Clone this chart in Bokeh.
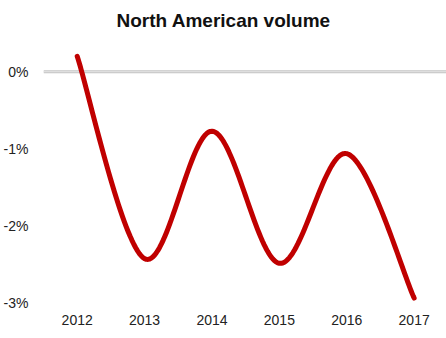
from bokeh.plotting import figure
from bokeh.models import Span, FixedTicker, Range1d, ColumnDataSource
from bokeh.embed import file_html
from bokeh.resources import INLINE

# Annual change in North American volume (percent)
years = [2012, 2013, 2014, 2015, 2016, 2017]
volume_pct = [0.2, -2.42, -0.77, -2.48, -1.06, -2.93]
y_ticks = [0, -1, -2, -3]
y_tick_labels = ["0%", "-1%", "-2%", "-3%"]
x_tick_labels = ["2012", "2013", "2014", "2015", "2016", "2017"]


def smooth(xs, ys, steps=40):
    """Catmull-Rom curve through the points, like a spreadsheet's smoothed line."""
    px = [xs[0]] + list(xs) + [xs[-1]]
    py = [ys[0]] + list(ys) + [ys[-1]]
    out_x, out_y = [], []
    for i in range(1, len(px) - 2):
        for s in range(steps + (1 if i == len(px) - 3 else 0)):
            t = s / steps
            t2, t3 = t * t, t * t * t
            def cr(p0, p1, p2, p3):
                return 0.5 * ((2 * p1) + (-p0 + p2) * t
                              + (2 * p0 - 5 * p1 + 4 * p2 - p3) * t2
                              + (-p0 + 3 * p1 - 3 * p2 + p3) * t3)
            out_x.append(cr(px[i - 1], px[i], px[i + 1], px[i + 2]))
            out_y.append(cr(py[i - 1], py[i], py[i + 1], py[i + 2]))
    return out_x, out_y


cx, cy = smooth(years, volume_pct)
src = ColumnDataSource(dict(x=cx, y=cy))

p = figure(width=446, height=338, output_backend="svg", toolbar_location=None,
           x_range=Range1d(2011.5, 2017.48), y_range=Range1d(-3.026, 0.443),
           title="North American volume",
           min_border_left=43, min_border_right=0, min_border_bottom=33,
           min_border_top=0)

p.title.align = "left"
p.title.offset = 73
p.title.text_font = "Liberation Sans"
p.title.text_font_size = "19px"
p.title.text_font_style = "bold"
p.title.text_color = "#111111"
p.title.standoff = 14

p.outline_line_color = None
p.background_fill_color = "white"
p.border_fill_color = "white"
p.grid.visible = False

# zero baseline: grey rule with a lighter centre
p.add_layout(Span(location=0, dimension="width", line_color="#c4c4c4",
                  line_width=3, level="underlay"))
p.add_layout(Span(location=0, dimension="width", line_color="#e6e6e6",
                  line_width=1, level="underlay"))

p.line("x", "y", source=src, line_color="#c00000", line_width=5,
       line_cap="round", line_join="round")

for ax in (p.xaxis, p.yaxis):
    ax.axis_line_color = None
    ax.major_tick_line_color = None
    ax.minor_tick_line_color = None
    ax.major_tick_out = 0
    ax.major_tick_in = 0
    ax.minor_tick_out = 0
    ax.major_label_text_font = "Liberation Sans"
    ax.major_label_text_font_size = "14px"
    ax.major_label_text_color = "#222222"

p.yaxis.ticker = FixedTicker(ticks=y_ticks)
p.yaxis.major_label_overrides = {t: s for t, s in zip(y_ticks, y_tick_labels)}
p.yaxis.major_label_standoff = 15

p.xaxis.ticker = FixedTicker(ticks=years)
p.xaxis.major_label_overrides = {t: s for t, s in zip(years, x_tick_labels)}
p.xaxis.major_label_standoff = 9

open("out.html", "w").write(file_html(p, INLINE))
